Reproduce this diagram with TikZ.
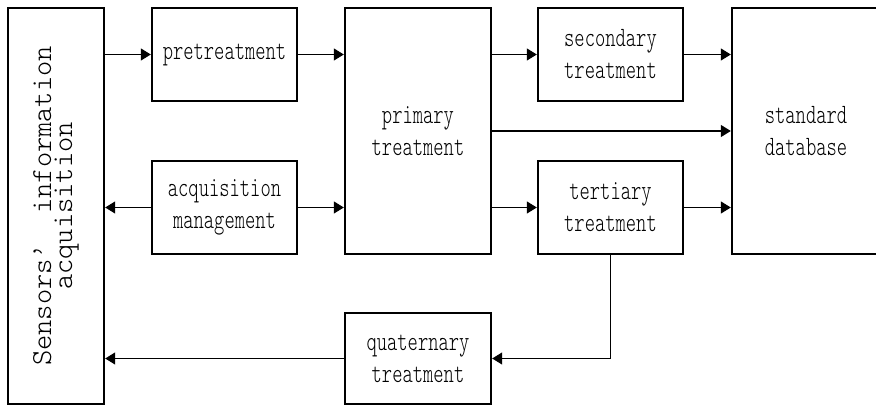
\documentclass[tikz,border=0pt]{standalone}
\usepackage{fontspec}
\usetikzlibrary{arrows.meta}
\newfontfamily\boxfont{lmmonolt10-regular.otf}[FakeStretch=0.7]
\newfontfamily\sensfont{lmmonolt10-regular.otf}
\tikzset{
 blk/.style={draw,line width=2.4pt,inner sep=0pt,align=center,
  font=\boxfont\fontsize{28}{32}\selectfont},
 flow/.style={line width=1.3pt,-{Triangle[length=10pt,width=12pt]}},
}
\begin{document}
\begin{tikzpicture}[x=1pt,y=-1pt]
 \useasboundingbox (0,0) rectangle (876,406);
 % blocks
 \node[blk,rotate=90,minimum width=396pt,minimum height=96pt,
  font=\sensfont\fontsize{29}{21}\selectfont] (sens) at (56,206) {Sensors’\ \ information\\acquisition};
 \node[blk,minimum width=145pt,minimum height=93pt] (pre) at (224.5,54.5) {pretreatment};
 \node[blk,minimum width=145pt,minimum height=93pt] (acq) at (224.5,207.5) {acquisition\\management};
 \node[blk,minimum width=146pt,minimum height=246pt] (prim) at (418,131) {primary\\treatment};
 \node[blk,minimum width=145pt,minimum height=93pt] (sec) at (610.5,54.5) {secondary\\treatment};
 \node[blk,minimum width=145pt,minimum height=93pt] (ter) at (610.5,207.5) {tertiary\\treatment};
 \node[blk,minimum width=148pt,minimum height=246pt] (db) at (806,131) {standard\\database};
 \node[blk,minimum width=146pt,minimum height=91pt] (quat) at (418,358.5) {quaternary\\treatment};
 % connectors
 \draw[flow] (sens.south |- pre.west) -- (pre.west);
 \draw[flow] (pre.east) -- (prim.west |- pre.east);
 \draw[flow] (acq.west) -- (sens.south |- acq.west);
 \draw[flow] (acq.east) -- (prim.west |- acq.east);
 \draw[flow] (prim.east |- sec.west) -- (sec.west);
 \draw[flow] (prim.east |- ter.west) -- (ter.west);
 \draw[flow] (prim.east) -- (db.west);
 \draw[flow] (sec.east) -- (db.west |- sec.east);
 \draw[flow] (ter.east) -- (db.west |- ter.east);
 \draw[flow] (ter.south) |- (quat.east);
 \draw[flow] (quat.west) -- (sens.south |- quat.west);
\end{tikzpicture}
\end{document}
